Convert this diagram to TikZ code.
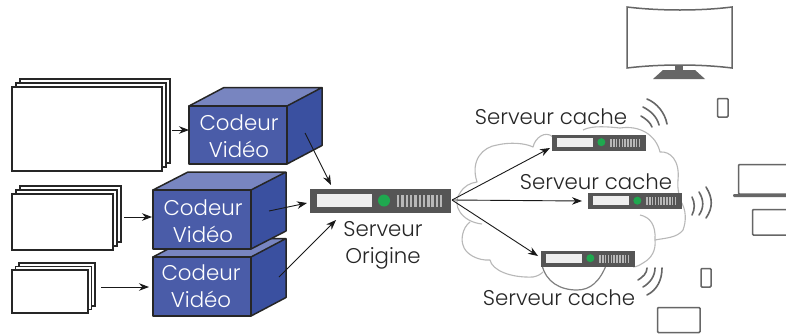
\documentclass[tikz,border=0pt]{standalone}
\usepackage{fontspec}
\setmainfont{Poppins Light}
\usetikzlibrary{arrows.meta}
\definecolor{cfront}{HTML}{4A5CA8}
\definecolor{ctop}{HTML}{7885C0}
\definecolor{cside}{HTML}{3A50A0}
\definecolor{srv}{HTML}{555555}
\definecolor{srvin}{HTML}{EEEEEE}
\definecolor{srvgr}{HTML}{1FA84F}
\definecolor{dev}{HTML}{666666}
\tikzset{
  x=1pt,y=-1pt,
  sheet/.style={draw=black!85,fill=white,line width=1.6pt},
  cubeedge/.style={draw=black!85,line width=1.5pt,line join=round},
  lbl/.style={font=\fontsize{21.3}{21.3}\selectfont,anchor=base,inner sep=0pt,text=black!85},
  wlbl/.style={font=\fontsize{21.3}{21.3}\selectfont,anchor=base,inner sep=0pt,text=white},
  arr/.style={-{Stealth[length=10pt,width=7.5pt]},line width=0.9pt,black!90},
  cloudl/.style={draw=black!28,line width=1.1pt,line join=round},
  cloudd/.style={draw=black!50,line width=1.2pt},
  wifi/.style={draw=dev,line width=1.6pt,line cap=round},
  device/.style={draw=dev,fill=white,line width=1.5pt,rounded corners=1pt},
  srvbody/.style={fill=srv,inner sep=0pt,minimum width=141pt,minimum height=24pt,anchor=north west,transform shape},
}
\newcommand{\sheets}[6]{% name x1 y1 x2 y2 offset
  \draw[sheet] (#2+2*#6,#3-2*#6) rectangle (#4+2*#6,#5-2*#6);
  \draw[sheet] (#2+#6,#3-#6) rectangle (#4+#6,#5-#6);
  \draw[sheet] (#2,#3) rectangle (#4,#5);
  \path (#2,#3) -- (#4,#5) node[midway,inner sep=0pt] (#1) {};
}
\newcommand{\cubebox}[9]{% name x1 y1 x2 y2 dx dy text-x baseline
  \fill[ctop] (#2,#3) -- (#2+#6,#3-#7) -- (#4+#6,#3-#7) -- (#4,#3) -- cycle;
  \fill[cside] (#4,#3) -- (#4+#6,#3-#7) -- (#4+#6,#5-#7) -- (#4,#5) -- cycle;
  \fill[cfront] (#2,#3) rectangle (#4,#5);
  \draw[cubeedge] (#2,#3) rectangle (#4,#5);
  \draw[cubeedge] (#2,#3) -- (#2+#6,#3-#7) -- (#4+#6,#3-#7) -- (#4+#6,#5-#7) -- (#4,#5) (#4,#3) -- (#4+#6,#3-#7);
  \node[wlbl] (#1a) at (#8,#9) {Codeur};
  \node[wlbl] (#1b) at (#8,#9+27) {Vidéo};
}
\newcommand{\server}[4]{% name x y scale
  \begin{scope}[shift={(#2,#3)},scale=#4]
    \node[srvbody] (#1) at (0,0) {};
    \fill[srvin] (7,5) rectangle (62,18);
    \fill[srvgr] (74,11.5) circle (6);
    \foreach \k in {0,...,10}{\fill[black!28] (87+\k*4.3,6) rectangle ++(2.4,12);}
  \end{scope}
}
\begin{document}
\begin{tikzpicture}
\clip (0,0) rectangle (786,335);
\fill[white] (0,0) rectangle (786,335);
% coordinates of connector ends
\coordinate (a1) at (172,130); \coordinate (b1) at (189,130);
\coordinate (a2) at (124,217); \coordinate (b2) at (152,217);
\coordinate (a3) at (101,287); \coordinate (b3) at (149,287);
\coordinate (c1) at (305,133); \coordinate (d1) at (331,185);
\coordinate (c2) at (269,211); \coordinate (d2) at (307,203);
\coordinate (c3) at (279,277); \coordinate (d3) at (336,220);
\coordinate (o) at (452,200);
\coordinate (e1) at (550,148); \coordinate (e2) at (582,201); \coordinate (e3) at (538,256);
% source stacks
\sheets{src1}{12}{87}{162}{171}{4}
\sheets{src2}{12}{194}{113}{250}{4}
\sheets{src3}{12}{270}{88}{313}{3.5}
% cubes
\cubebox{enc1}{189}{106}{287}{164}{35}{18.5}{239}{130}
\cubebox{enc3}{153}{257}{251}{316}{35}{18.5}{201}{280}
\cubebox{enc2}{153}{190}{251}{249}{35}{18}{203}{215}
% cloud
\draw[cloudl] (482,224) .. controls (462,222) and (451,205) .. (460,193) .. controls (464,186) and (470,183) .. (477,182)
  .. controls (470,160) and (483,147) .. (497,145) .. controls (510,142) and (525,143) .. (533,147)
  .. controls (535,138) and (545,130) .. (553,137);
\draw[cloudl] (583,130) .. controls (592,125) and (610,127) .. (620,128) .. controls (640,125) and (656,135) .. (660,152)
  .. controls (670,151) and (680,160) .. (678,180) .. controls (677,190) and (680,197) .. (680,200)
  .. controls (687,210) and (686,222) .. (683,230) .. controls (677,238) and (665,238) .. (655,240);
\draw[cloudl] (640,215) .. controls (650,217) and (656,225) .. (655,240) .. controls (656,250) and (652,258) .. (643,263) .. controls (640,265) and (636,267) .. (633,267);
\draw[cloudl] (470,222) .. controls (462,228) and (461,240) .. (463,245) .. controls (465,254) and (478,261) .. (490,260)
  .. controls (492,270) and (510,278) .. (533,277) .. controls (538,276) and (541,274) .. (543,272);
\draw[cloudd] (542,265) .. controls (546,282) and (560,290) .. (577,290) .. controls (590,290) and (600,282) .. (607,263);
% wifi
\draw[wifi] (647,99) .. controls (657,103) and (665,113) .. (667,124);
\draw[wifi] (643,107) .. controls (651,111) and (657,117) .. (659,125);
\draw[wifi] (641,116) .. controls (646,119) and (650,122) .. (652,127);
\draw[wifi] (692,197) .. controls (695,203) and (695,209) .. (692,215);
\draw[wifi] (699,192) .. controls (704,200) and (704,208) .. (699,215);
\draw[wifi] (706,187) .. controls (713,198) and (713,208) .. (706,218);
\draw[wifi] (662,268) .. controls (662,280) and (657,290) .. (647,295);
\draw[wifi] (655,268) .. controls (655,276) and (650,283) .. (643,287);
\draw[wifi] (647,268) .. controls (647,273) and (643,277) .. (638,280);
% labels
\node[lbl] (t1) at (551,124) {Serveur cache};
\node[lbl] (t2) at (596,189) {Serveur cache};
\node[lbl] (t3) at (559,305) {Serveur cache};
\node[lbl] (o1) at (383,236) {Serveur};
\node[lbl] (o2) at (383,263) {Origine};
% servers
\server{so}{310}{189}{1}
\server{s1}{552}{134.5}{0.667}
\server{s2}{588}{193}{0.667}
\server{s3}{541}{250.5}{0.667}
% connectors
\foreach \p/\q in {a1/b1,a2/b2,a3/b3,c1/d1,c2/d2,c3/d3,o/e1,o/e2,o/e3}{\draw[arr] (\p) -- (\q);}
% devices
\draw[device,rounded corners=0pt] (627,7) .. controls (660,11) and (700,11) .. (732,7) -- (732,68) .. controls (700,64) and (660,64) .. (627,68) -- cycle;
\fill[dev] (675,66) rectangle (683,71);
\fill[dev] (663,70) -- (695,70) -- (705,79) -- (653,79) -- cycle;
\draw[device] (717.5,98.5) rectangle (728,117);
\draw[device] (701,268.5) rectangle (711,287);
\draw[device] (752.5,209.5) rectangle (800,235);
\draw[device] (657.5,307.5) rectangle (700,332.5);
\draw[device] (738.5,164.5) rectangle (800,194);
\fill[dev,rounded corners=1pt] (733,194) rectangle (800,197);
\end{tikzpicture}
\end{document}
